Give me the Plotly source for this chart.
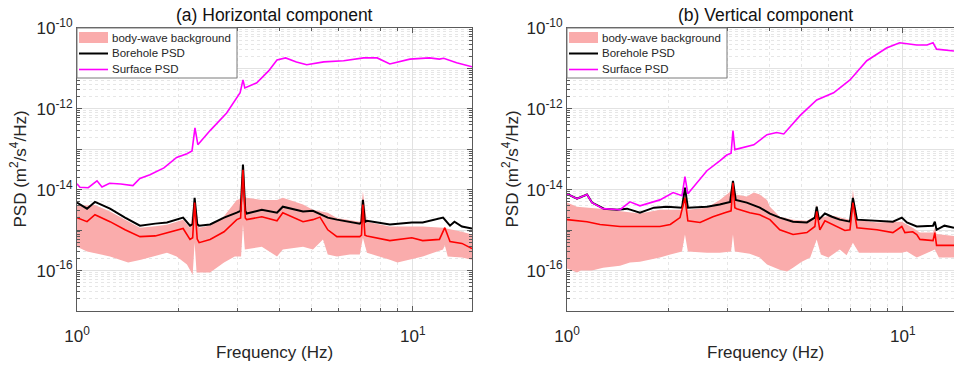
import math
import plotly.graph_objects as go

# ---------------- (a) Horizontal component ----------------
h_surface_f = [1.0, 1.02, 1.08, 1.147, 1.187, 1.25, 1.35, 1.467, 1.539, 1.649, 1.815, 1.98, 2.125, 2.2, 2.245,
               2.29, 2.49, 2.79, 3.06, 3.12, 3.16, 3.43, 3.72, 3.94, 4.18, 4.5, 4.83, 5.43, 6.22, 7.14,
               7.83, 8.54, 9.8, 11.2, 12.0, 12.35, 13.5, 15.0]
h_surface_psd = [1.4e-14, 1.15e-14, 1.12e-14, 1.66e-14, 1.17e-14, 1.45e-14, 1.38e-14, 1.26e-14, 1.9e-14, 2.34e-14,
                 3.47e-14, 6.3e-14, 7.8e-14, 9.1e-14, 3.4e-13, 1.3e-13, 2.9e-13, 7.9e-13, 2.5e-12, 5.2e-12,
                 3.3e-12, 4.4e-12, 8.7e-12, 1.62e-11, 1.82e-11, 1.45e-11, 1.23e-11, 1.45e-11, 1.55e-11, 1.82e-11,
                 1.82e-11, 1.29e-11, 1.7e-11, 1.82e-11, 1.7e-11, 1.78e-11, 1.38e-11, 1.1e-11]

h_borehole_f = [1.0, 1.071, 1.131, 1.254, 1.39, 1.54, 1.71, 1.853, 2.07, 2.17, 2.21, 2.24, 2.28, 2.31, 2.49,
                2.74, 2.99, 3.07, 3.12, 3.17, 3.2, 3.55, 3.94, 4.1, 4.71, 5.04, 5.58, 5.94, 6.95, 7.03,
                7.1, 7.2, 7.3, 8.54, 9.93, 10.7, 12.3, 12.9, 13.3, 14.0, 15.0]
h_borehole_psd = [4.8e-15, 3.4e-15, 5.0e-15, 3.4e-15, 2.04e-15, 1.29e-15, 1.45e-15, 1.55e-15, 2.04e-15, 1.29e-15,
                  1.4e-15, 6.3e-15, 1.4e-15, 1.29e-15, 1.38e-15, 2.04e-15, 2.7e-15, 3.0e-15, 4.2e-14, 3.0e-15,
                  2.57e-15, 3.2e-15, 2.7e-15, 3.8e-15, 2.9e-15, 3.0e-15, 2.04e-15, 1.82e-15, 1.45e-15, 1.6e-15,
                  5.6e-15, 1.6e-15, 1.7e-15, 1.38e-15, 1.55e-15, 1.55e-15, 2.04e-15, 1.29e-15, 1.62e-15, 1.23e-15,
                  1.1e-15]

h_median_f = [1.0, 1.071, 1.131, 1.254, 1.39, 1.54, 1.71, 1.853, 2.07, 2.17, 2.21, 2.24, 2.28, 2.31, 2.49,
              2.74, 2.99, 3.07, 3.12, 3.17, 3.2, 3.55, 3.94, 4.1, 4.71, 5.04, 5.29, 5.58, 5.94, 6.95,
              7.03, 7.1, 7.2, 7.3, 8.54, 9.93, 10.7, 12.0, 12.45, 12.9, 14.0, 15.0]
h_median_psd = [2.04e-15, 1.62e-15, 2.4e-15, 1.62e-15, 1.02e-15, 6.9e-16, 7.2e-16, 8.7e-16, 1.1e-15, 5.9e-16,
                6.5e-16, 4.8e-15, 6.0e-16, 4.9e-16, 5.9e-16, 9.1e-16, 1.82e-15, 2.0e-15, 3.1e-14, 2.0e-15,
                1.82e-15, 2.14e-15, 1.7e-15, 2.7e-15, 1.62e-15, 1.82e-15, 2.1e-15, 1.02e-15, 6.9e-16, 6.9e-16,
                7.5e-16, 4.3e-15, 7.5e-16, 7.2e-16, 5.5e-16, 6.5e-16, 5.5e-16, 5.9e-16, 1.15e-15, 5.2e-16,
                4.7e-16, 3.5e-16]

h_band_upper_f = [1.0, 1.131, 1.254, 1.39, 1.54, 1.71, 1.853, 2.07, 2.17, 2.24, 2.31, 2.49, 2.74, 2.99, 3.07,
                  3.12, 3.17, 3.2, 3.55, 3.94, 4.1, 4.71, 5.04, 5.58, 5.94, 6.95, 7.1, 7.3, 8.54, 10.7,
                  12.3, 14.0, 15.0]
h_band_upper = [4.0e-15, 4.2e-15, 2.9e-15, 1.8e-15, 1.15e-15, 1.25e-15, 1.35e-15, 1.8e-15, 1.15e-15, 6.0e-15,
                1.15e-15, 1.3e-15, 2.2e-15, 5.6e-15, 6.0e-15, 3.5e-14, 6.5e-15, 6.3e-15, 5.6e-15, 5.6e-15,
                6.3e-15, 4.3e-15, 3.2e-15, 2.7e-15, 2.0e-15, 1.62e-15, 9.0e-15, 1.62e-15, 1.23e-15, 1.23e-15,
                1.15e-15, 9.1e-16, 7.8e-16]

h_band_lower_f = [1.0, 1.071, 1.254, 1.42, 1.55, 1.853, 1.98, 2.125, 2.21, 2.24, 2.27, 2.49, 2.74, 2.95, 3.08,
                  3.12, 3.16, 3.55, 3.94, 4.1, 4.71, 5.04, 5.4, 5.58, 5.94, 6.5, 6.95, 7.1, 7.3, 8.54,
                  9.0, 10.7, 12.3, 12.45, 12.7, 14.0, 15.0]
h_band_lower = [3.9e-16, 2.95e-16, 2.24e-16, 1.58e-16, 1.86e-16, 2.75e-16, 2.24e-16, 1.41e-16, 7.9e-17, 4.9e-16,
                8.9e-17, 8.9e-17, 1.58e-16, 2.24e-16, 2.24e-16, 1.38e-15, 3.3e-16, 3.9e-16, 2.24e-16, 3.3e-16,
                3.9e-16, 3.3e-16, 5.9e-16, 2.5e-16, 2.24e-16, 2.5e-16, 2.5e-16, 6.5e-16, 2.75e-16, 1.86e-16,
                1.58e-16, 2.24e-16, 3.3e-16, 4.2e-16, 2.24e-16, 2.1e-16, 1.86e-16]

# ---------------- (b) Vertical component ----------------
v_surface_f = [1.0, 1.071, 1.147, 1.187, 1.28, 1.438, 1.54, 1.649, 1.891, 2.07, 2.2, 2.245, 2.29, 2.61, 2.85,
               2.99, 3.08, 3.12, 3.16, 3.6, 3.94, 4.21, 4.42, 4.94, 5.54, 6.22, 6.96, 7.81, 8.94, 9.78,
               11.0, 11.8, 12.3, 12.6, 14.2]
v_surface_psd = [7.9e-15, 6.0e-15, 7.6e-15, 4.8e-15, 3.4e-15, 3.2e-15, 5.0e-15, 4.0e-15, 5.6e-15, 8.5e-15,
                 7.1e-15, 2.1e-14, 7.9e-15, 2.95e-14, 5.2e-14, 7.2e-14, 8.0e-14, 2.9e-13, 9.8e-14, 1.29e-13,
                 2.3e-13, 2.6e-13, 2.4e-13, 6.8e-13, 1.66e-12, 2.5e-12, 5.2e-12, 1.55e-11, 3.2e-11, 4.3e-11,
                 3.8e-11, 3.8e-11, 4.3e-11, 3.0e-11, 2.7e-11]

v_borehole_f = [1.0, 1.071, 1.147, 1.187, 1.288, 1.409, 1.51, 1.649, 1.815, 1.985, 2.2, 2.245, 2.29, 2.61, 2.85,
                3.06, 3.12, 3.18, 3.43, 3.75, 4.02, 4.30, 4.71, 5.18, 5.47, 5.54, 5.62, 5.86, 6.15, 6.49,
                6.96, 7.1, 7.3, 8.37, 9.34, 9.93, 10.28, 11.0, 12.3, 12.45, 12.6, 13.3, 14.2]
v_borehole_psd = [7.9e-15, 6.0e-15, 7.6e-15, 4.8e-15, 3.4e-15, 3.2e-15, 3.4e-15, 2.7e-15, 3.6e-15, 3.8e-15,
                  3.6e-15, 1.12e-14, 3.6e-15, 3.8e-15, 4.3e-15, 5.0e-15, 1.66e-14, 5.6e-15, 4.8e-15, 3.6e-15,
                  2.57e-15, 2.04e-15, 1.62e-15, 1.55e-15, 2.04e-15, 3.8e-15, 1.82e-15, 2.57e-15, 2.14e-15, 1.82e-15,
                  1.62e-15, 6.3e-15, 1.82e-15, 1.7e-15, 1.62e-15, 2.04e-15, 1.55e-15, 1.23e-15, 1.29e-15, 1.62e-15,
                  1.02e-15, 1.29e-15, 1.15e-15]

v_median_f = [1.0, 1.147, 1.254, 1.438, 1.649, 1.891, 2.03, 2.17, 2.245, 2.29, 2.49, 2.72, 2.95, 3.08, 3.12,
              3.16, 3.2, 3.5, 3.75, 4.02, 4.30, 4.71, 5.18, 5.47, 5.54, 5.66, 5.86, 6.28, 6.72, 6.96,
              7.1, 7.3, 8.37, 9.34, 9.93, 10.14, 10.7, 11.0, 11.24, 12.3, 12.45, 12.6, 14.2]
v_median_psd = [1.82e-15, 1.62e-15, 1.38e-15, 1.23e-15, 1.23e-15, 1.23e-15, 1.38e-15, 2.04e-15, 6.3e-15, 1.7e-15,
                1.55e-15, 2.14e-15, 2.7e-15, 3.0e-15, 1.48e-14, 3.6e-15, 3.4e-15, 2.7e-15, 2.4e-15, 1.82e-15,
                1.02e-15, 7.8e-16, 8.7e-16, 1.23e-15, 2.9e-15, 1.02e-15, 1.7e-15, 1.29e-15, 9.8e-16, 1.02e-15,
                4.8e-15, 1.15e-15, 1.02e-15, 8.7e-16, 1.23e-15, 8.7e-16, 9.1e-16, 7.8e-16, 5.9e-16, 5.5e-16,
                8.7e-16, 4.2e-16, 4.2e-16]

v_band_upper_f = [1.0, 1.071, 1.254, 1.438, 1.649, 1.891, 2.2, 2.245, 2.29, 2.61, 2.85, 3.06, 3.12, 3.18, 3.43,
                  3.6, 3.75, 3.94, 4.02, 4.30, 4.71, 5.18, 5.47, 5.54, 5.66, 6.15, 6.96, 7.1, 7.3, 8.37,
                  9.93, 10.7, 11.24, 12.3, 12.45, 12.6, 14.2]
v_band_upper = [4.8e-15, 3.8e-15, 3.4e-15, 3.0e-15, 2.57e-15, 3.2e-15, 3.2e-15, 1.0e-14, 3.2e-15, 3.6e-15,
                5.6e-15, 8.9e-15, 1.3e-14, 7.6e-15, 6.8e-15, 8.5e-15, 7.6e-15, 5.6e-15, 3.8e-15, 2.14e-15,
                1.82e-15, 1.7e-15, 2.2e-15, 4.3e-15, 2.04e-15, 2.3e-15, 1.82e-15, 1.0e-14, 1.82e-15, 1.55e-15,
                1.62e-15, 1.15e-15, 8.7e-16, 8.7e-16, 1.15e-15, 8.0e-16, 7.2e-16]

v_band_lower_f = [1.0, 1.071, 1.1, 1.187, 1.28, 1.438, 1.54, 1.649, 1.891, 2.03, 2.2, 2.245, 2.29, 2.61, 2.85,
                  3.08, 3.12, 3.16, 3.5, 3.75, 3.94, 4.3, 4.52, 4.71, 5.0, 5.3, 5.54, 5.7, 6.0, 6.49,
                  6.8, 7.1, 7.4, 8.37, 9.93, 10.28, 11.0, 12.45, 12.8, 14.2]
v_band_lower = [1.12e-16, 8.9e-17, 1.0e-16, 1.0e-16, 1.17e-16, 1.32e-16, 1.58e-16, 1.66e-16, 2.1e-16, 2.5e-16,
                2.95e-16, 7.8e-16, 2.95e-16, 2.75e-16, 2.75e-16, 2.95e-16, 7.8e-16, 2.95e-16, 2.6e-16, 2.1e-16,
                1.41e-16, 1.05e-16, 9.5e-17, 1.17e-16, 1.66e-16, 2.1e-16, 5.9e-16, 2.5e-16, 2.1e-16, 3.3e-16,
                2.4e-16, 4.9e-16, 2.75e-16, 2.75e-16, 2.75e-16, 2.95e-16, 2.1e-16, 3.3e-16, 2.1e-16, 2.1e-16]

# tick labels
x_tick_vals = [1, 10]
x_tick_text = ["10<sup>0</sup>", "10<sup>1</sup>"]
y_tick_vals = [1e-17, 1e-16, 1e-15, 1e-14, 1e-13, 1e-12, 1e-11, 1e-10]
y_tick_text = ["", "10<sup>-16</sup>", "", "10<sup>-14</sup>", "", "10<sup>-12</sup>", "", "10<sup>-10</sup>"]

panel_titles = ["(a) Horizontal component", "(b) Vertical component"]
legend_labels = ["body-wave background", "Borehole PSD", "Surface PSD"]
x_label = "Frequency (Hz)"
y_label = "PSD (m<sup>2</sup>/s<sup>4</sup>/Hz)"

# ---------------- styling ----------------
W, H = 954, 369
FONT = "Liberation Sans, Arial, Helvetica, sans-serif"
BAND = "rgb(250,172,172)"
AXC = "#5a5a5a"
GRID = "#e2e2e2"
MINOR_GRID = "#e6e6e6"
COLORS = {"borehole": "black", "median": "#ff0000", "surface": "#ff00ff"}

x_minor = [2, 3, 4, 5, 6, 7, 8, 9]
y_minor = [k * 10.0 ** d for d in range(-17, -10) for k in range(2, 10)]

fig = go.Figure()


def add_panel(xa, ya, up_f, up_v, lo_f, lo_v, bh_f, bh_v, md_f, md_v, sf_f, sf_v):
    fig.add_trace(go.Scatter(
        x=up_f + lo_f[::-1], y=up_v + lo_v[::-1], fill="toself", fillcolor=BAND,
        mode="lines", line=dict(width=0, color=BAND), name=legend_labels[0],
        xaxis=xa, yaxis=ya, showlegend=False, hoverinfo="skip"))
    fig.add_trace(go.Scatter(
        x=bh_f, y=bh_v, mode="lines", line=dict(color=COLORS["borehole"], width=2),
        name=legend_labels[1], xaxis=xa, yaxis=ya, showlegend=False))
    fig.add_trace(go.Scatter(
        x=md_f, y=md_v, mode="lines", line=dict(color=COLORS["median"], width=1.6),
        name="median", showlegend=False, xaxis=xa, yaxis=ya))
    fig.add_trace(go.Scatter(
        x=sf_f, y=sf_v, mode="lines", line=dict(color=COLORS["surface"], width=1.6),
        name=legend_labels[2], xaxis=xa, yaxis=ya, showlegend=False))


add_panel("x", "y", h_band_upper_f, h_band_upper, h_band_lower_f, h_band_lower,
          h_borehole_f, h_borehole_psd, h_median_f, h_median_psd, h_surface_f, h_surface_psd)
add_panel("x2", "y2", v_band_upper_f, v_band_upper, v_band_lower_f, v_band_lower,
          v_borehole_f, v_borehole_psd, v_median_f, v_median_psd, v_surface_f, v_surface_psd)

y_dom = [(H - 311) / H, (H - 28) / H]
left_dom = [77 / W, 472 / W]
right_dom = [567 / W, 1.0]

tickfont = dict(family=FONT, size=17, color="#262626")


def xaxis_cfg(dom, rng, anchor):
    return dict(type="log", domain=dom, range=rng, anchor=anchor, automargin=False,
                showline=True, linecolor=AXC, linewidth=1, mirror="allticks",
                ticks="inside", ticklen=5, tickcolor=AXC, ticklabelstandoff=10,
                tickmode="array", tickvals=x_tick_vals, ticktext=x_tick_text,
                tickfont=tickfont, showgrid=True, gridcolor=GRID, gridwidth=1,
                minor=dict(tickmode="array", tickvals=x_minor, ticks="inside", ticklen=3,
                           tickcolor=AXC, showgrid=True, gridcolor=MINOR_GRID, griddash="dot"),
                zeroline=False, fixedrange=True)


def yaxis_cfg(anchor, mirror):
    return dict(type="log", domain=y_dom, range=[-17, -10], anchor=anchor, automargin=False,
                showline=True, linecolor=AXC, linewidth=1, mirror=mirror,
                ticks="inside", ticklen=5, tickcolor=AXC,
                tickmode="array", tickvals=y_tick_vals, ticktext=y_tick_text,
                tickfont=tickfont, showgrid=True, gridcolor=GRID, gridwidth=1,
                minor=dict(tickmode="array", tickvals=y_minor, ticks="inside", ticklen=3,
                           tickcolor=AXC, showgrid=True, gridcolor=MINOR_GRID, griddash="dot"),
                zeroline=False, fixedrange=True)


fig.update_layout(
    width=W, height=H, autosize=False,
    margin=dict(l=0, r=0, t=0, b=0, autoexpand=False),
    paper_bgcolor="white", plot_bgcolor="white",
    font=dict(family=FONT, color="#262626"),
    xaxis=xaxis_cfg(left_dom, [0, math.log10(15)], "y"),
    yaxis=yaxis_cfg("x", "allticks"),
    xaxis2=xaxis_cfg(right_dom, [0, math.log10(14.2)], "y2"),
    yaxis2=yaxis_cfg("x2", False),
    showlegend=False,
)


def px(x):
    return x / W


def py(y):
    return 1 - y / H


ann = []
shapes = []
for title, cx in zip(panel_titles, [274.5, 765]):
    ann.append(dict(text=title, x=px(cx), y=py(15), xref="paper", yref="paper",
                    showarrow=False, xanchor="center", yanchor="middle",
                    font=dict(family=FONT, size=17.5, color="#111")))
for cx in [274.5, 765]:
    ann.append(dict(text=x_label, x=px(cx), y=py(352), xref="paper", yref="paper",
                    showarrow=False, xanchor="center", yanchor="middle",
                    font=dict(family=FONT, size=17, color="#262626")))
for cx in [18, 510]:
    ann.append(dict(text=y_label, x=px(cx), y=(y_dom[0] + y_dom[1]) / 2, xref="paper", yref="paper",
                    showarrow=False, xanchor="center", yanchor="middle", textangle=-90,
                    font=dict(family=FONT, size=17, color="#262626")))

# legends (MATLAB-style box in the upper-left corner of each panel)
for x0 in [77, 567]:
    shapes.append(dict(type="rect", xref="paper", yref="paper", x0=px(x0), x1=px(x0 + 160),
                       y0=py(78), y1=py(28), fillcolor="white", line=dict(color="#7a7a7a", width=1),
                       layer="above"))
    shapes.append(dict(type="rect", xref="paper", yref="paper", x0=px(x0 + 2), x1=px(x0 + 31),
                       y0=py(43), y1=py(32), fillcolor=BAND, line=dict(width=0), layer="above"))
    shapes.append(dict(type="line", xref="paper", yref="paper", x0=px(x0 + 2), x1=px(x0 + 31),
                       y0=py(53.5), y1=py(53.5), line=dict(color=COLORS["borehole"], width=2), layer="above"))
    shapes.append(dict(type="line", xref="paper", yref="paper", x0=px(x0 + 2), x1=px(x0 + 31),
                       y0=py(69.5), y1=py(69.5), line=dict(color=COLORS["surface"], width=1.6), layer="above"))
    for lab, yc in zip(legend_labels, [38, 53.5, 69.5]):
        ann.append(dict(text=lab, x=px(x0 + 33), y=py(yc), xref="paper", yref="paper",
                        showarrow=False, xanchor="left", yanchor="middle",
                        font=dict(family=FONT, size=11.5, color="#262626")))

fig.update_layout(annotations=ann, shapes=shapes)

fig.write_html("out.html")
